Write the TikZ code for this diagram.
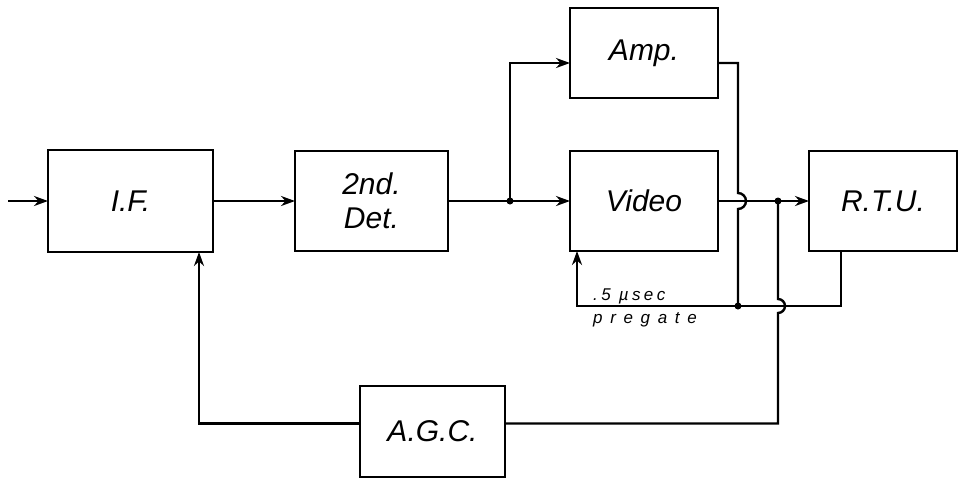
\documentclass[tikz,border=0pt]{standalone}
\usepackage{fontspec}
\setmainfont{Liberation Sans}
\usetikzlibrary{arrows.meta,positioning,calc}

\begin{document}
\begin{tikzpicture}[
  x=1pt, y=1pt,
  font=\fontsize{30}{34}\selectfont\itshape,
  block/.style={draw, line width=2.8pt, align=center, inner sep=0pt, outer sep=0pt},
  wire/.style={line width=2.4pt},
  arr/.style={wire, -{Stealth[length=14pt,width=10pt]}},
  dot/.style={circle, fill, inner sep=0pt, minimum size=7pt},
  note/.style={inner sep=0pt, anchor=base west, font=\fontsize{17}{19}\selectfont\itshape},
]
\useasboundingbox (0,0) rectangle (961,-480);

\node[block, minimum width=165pt, minimum height=102pt] (IF) at (130.5,-201) {I.F.};
\node[block, minimum width=153pt, minimum height=100pt, right=82pt of IF] (Det) {2nd.\\Det.};
\node[block, minimum width=148pt, minimum height=100pt, right=122pt of Det] (Video) {Video};
\node[block, minimum width=148pt, minimum height=100pt, right=91pt of Video] (RTU) {R.T.U.};
\node[block, minimum width=148pt, minimum height=90pt, above=53pt of Video] (Amp) {Amp.};
\node[block, minimum width=145pt, minimum height=91pt] (AGC) at (432.5,-431.5) {A.G.C.};

\coordinate (in) at (8,-201);
\coordinate (ampx) at ([xshift=20pt,yshift=-10pt]Amp.east);
\coordinate (gate) at ([xshift=-67pt,yshift=-55pt]Video.south);
\node[dot] (j1) at ([xshift=62pt]Det.east) {};
\node[dot] (j3) at ([xshift=60pt]Video.east) {};
\node[dot] (j2) at (ampx |- gate) {};

\draw[arr] (in) -- (IF);
\draw[arr] (IF) -- (Det);
\draw[arr] (Det) -- (Video);
\draw[arr] (j1.center) |- ([yshift=-10pt]Amp.west);
\draw[wire] ([yshift=-10pt]Amp.east) -- (ampx) -- ($(ampx |- Video.east)+(0,8)$)
  arc[start angle=90, end angle=-90, radius=8pt] -- (j2.center);
\draw[arr] (Video) -- (RTU);
\draw[wire] (j3.center) -- ($(j3 |- gate)+(0,7)$)
  arc[start angle=90, end angle=-90, radius=7pt] |- ([yshift=8pt]AGC.east);
\draw[arr] ([yshift=8pt]AGC.west) -| ([xshift=68.5pt]IF.south);
\draw[arr] ([xshift=-42pt]RTU.south) |- (gate) -- ([xshift=-67pt]Video.south);

\node[note, font=\fontsize{17}{19}\selectfont\itshape\addfontfeature{LetterSpace=20}] (usec) at ([xshift=16pt,yshift=6pt]gate) {.5 µsec};
\node[note, font=\fontsize{17}{19}\selectfont\itshape\addfontfeature{LetterSpace=45}] (pregate) at ([xshift=16pt,yshift=-17pt]gate) {pregate};
\end{tikzpicture}
\end{document}
